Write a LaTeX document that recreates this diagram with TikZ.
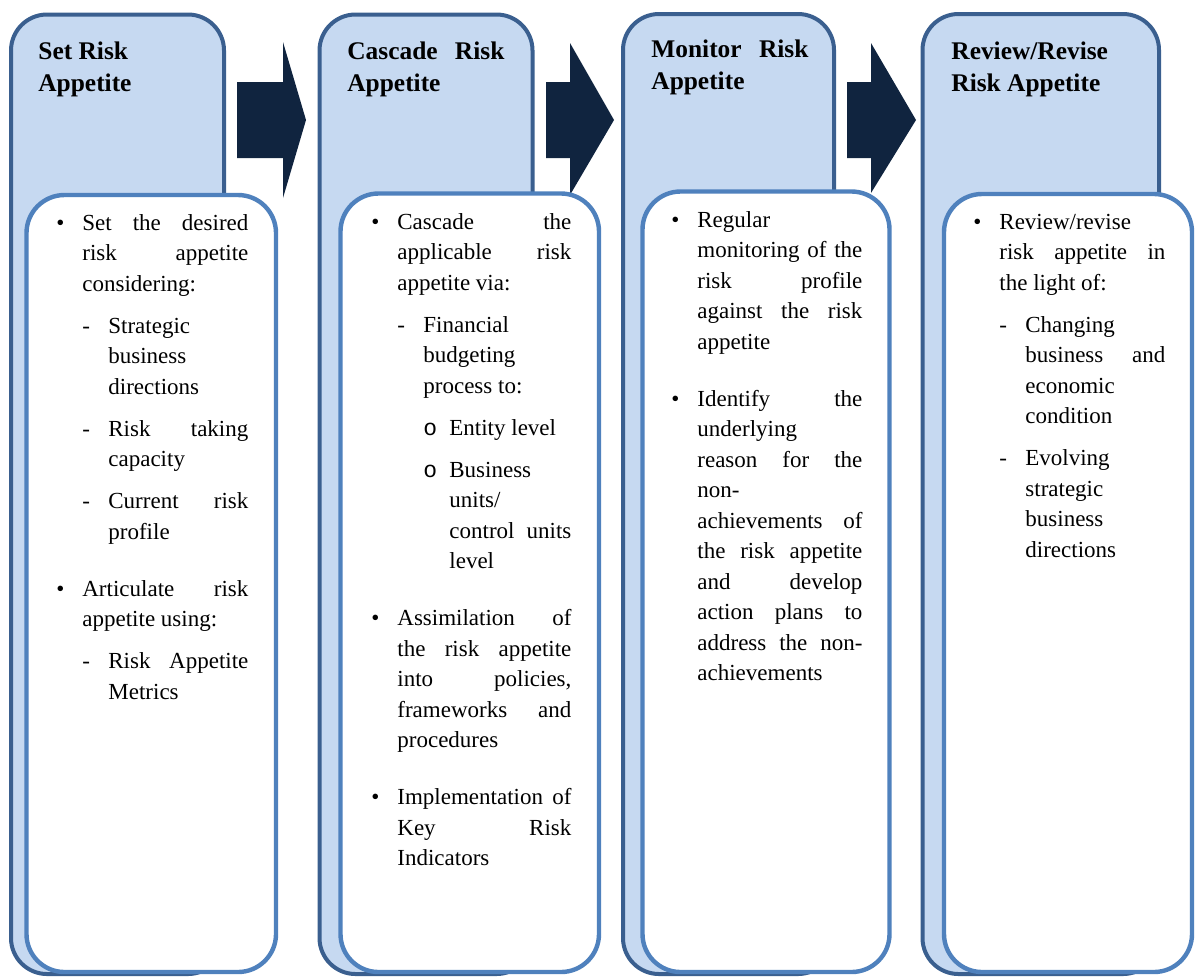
\documentclass[tikz,border=0pt]{standalone}
\usepackage{fontspec}
\setmainfont{Liberation Serif}
\newfontfamily\ramono{Liberation Mono}
\definecolor{RANavy}{HTML}{10243F}
\definecolor{RAEdge}{HTML}{3A5F8F}
\definecolor{RABlue}{HTML}{4F81BD}
\definecolor{RAFill}{HTML}{C6D9F1}

% text set-up for the boxes
\newcommand\rabody{\fontsize{11.5}{15.25}\selectfont\tolerance=10000\hbadness=10000\hyphenpenalty=10000\relax}
\newcommand\rahead{\fontsize{12.7}{16}\selectfont\bfseries\tolerance=10000\hbadness=10000\hyphenpenalty=10000\relax}
\newcommand\ranl{\hfil\break}
\newcommand\gapA{\vskip13.25pt}
\newcommand\gapB{\vskip5.75pt}
\newcommand\ptA[1]{\leftskip=0pt\hangindent=13pt\hangafter=1\noindent\hbox to13pt{\textbullet\hss}#1\par}
\newcommand\ptB[1]{\leftskip=13pt\hangindent=13pt\hangafter=1\noindent\hbox to13pt{-\hss}#1\par}
\newcommand\ptC[1]{\leftskip=26pt\hangindent=13pt\hangafter=1\noindent\hbox to13pt{{\ramono o}\hss}#1\par}

\tikzset{
  stagebox/.style={fill=RAFill,draw=RAEdge,line width=2pt,rounded corners=18pt},
  notebox/.style={fill=white,draw=RABlue,line width=2.2pt,rounded corners=19pt},
  stagetitle/.style={anchor=base west,inner sep=0pt,text width=78.5pt,align=justify,font=\rahead},
  notetext/.style={anchor=base west,inner sep=0pt,align=justify,font=\rabody},
  flowarrow/.style={fill=RANavy}
}

\begin{document}
\begin{tikzpicture}[x=0.5pt,y=-0.5pt,line join=round]
  \useasboundingbox (0,0) rectangle (1197,976);
  % arrows between the stages
  \fill[flowarrow] (237,82) -- (283,82) -- (283,42) -- (306,120) -- (283,198) -- (283,158) -- (237,158) -- cycle;
  \fill[flowarrow] (546,82) -- (570,82) -- (570,43) -- (614,120) -- (570,195) -- (570,158) -- (546,158) -- cycle;
  \fill[flowarrow] (847,82) -- (871,82) -- (871,43) -- (916,120) -- (871,193) -- (871,158) -- (847,158) -- cycle;

  % stage 1
  \filldraw[stagebox] (11,14.5) rectangle (224,974);
  \filldraw[notebox] (26.5,195) rectangle (276,972);
  \node[stagetitle] (setT) at (38,59) {Set Risk\ranl Appetite};
  \node[notetext,text width=96pt] (setN) at (56,230) {%
    \ptA{Set the desired\break risk appetite\break considering:}
    \gapB\ptB{Strategic\ranl business\ranl directions}
    \gapB\ptB{Risk taking\break capacity}
    \gapB\ptB{Current risk\break profile}
    \gapA\ptA{Articulate risk\break appetite using:}
    \gapB\ptB{Risk Appetite\break Metrics}};

  % stage 2
  \filldraw[stagebox] (319.5,14.5) rectangle (532.5,974);
  \filldraw[notebox] (340.5,193.5) rectangle (599,972);
  \node[stagetitle] (cascT) at (347,59) {Cascade Risk\break Appetite};
  \node[notetext,text width=100pt] (cascN) at (371,229) {%
    \ptA{Cascade the\break applicable risk\break appetite via:}
    \gapB\ptB{Financial\ranl budgeting\ranl process to:}
    \gapB\ptC{Entity level}
    \gapB\ptC{Business\ranl units/\ranl control units\break level}
    \gapA\ptA{Assimilation of\break the risk appetite\break into policies,\break frameworks and\break procedures}
    \gapA\ptA{Implementation of\break Key Risk\break Indicators}};

  % stage 3
  \filldraw[stagebox] (623,14) rectangle (834,974);
  \filldraw[notebox] (642.5,191.5) rectangle (889.5,972);
  \node[stagetitle] (monT) at (651,57) {Monitor Risk\break Appetite};
  \node[notetext,text width=95.5pt] (monN) at (671,227) {%
    \ptA{Regular\ranl monitoring of the\break risk profile\break against the risk\break appetite}
    \gapA\ptA{Identify the\break underlying\ranl reason for the\break non-\ranl achievements of\break the risk appetite\break and develop\break action plans to\break address the non-\break achievements}};

  % stage 4
  \filldraw[stagebox] (922.5,14) rectangle (1159,974);
  \filldraw[notebox] (944,194) rectangle (1192,972);
  \node[stagetitle] (revT) at (951,59) {Review/Revise\ranl Risk Appetite};
  \node[notetext,text width=96pt] (revN) at (973,229) {%
    \ptA{Review/revise\ranl risk appetite in\break the light of:}
    \gapB\ptB{Changing\ranl business and\break economic\ranl condition}
    \gapB\ptB{Evolving\ranl strategic\ranl business\ranl directions}};
\end{tikzpicture}
\end{document}
